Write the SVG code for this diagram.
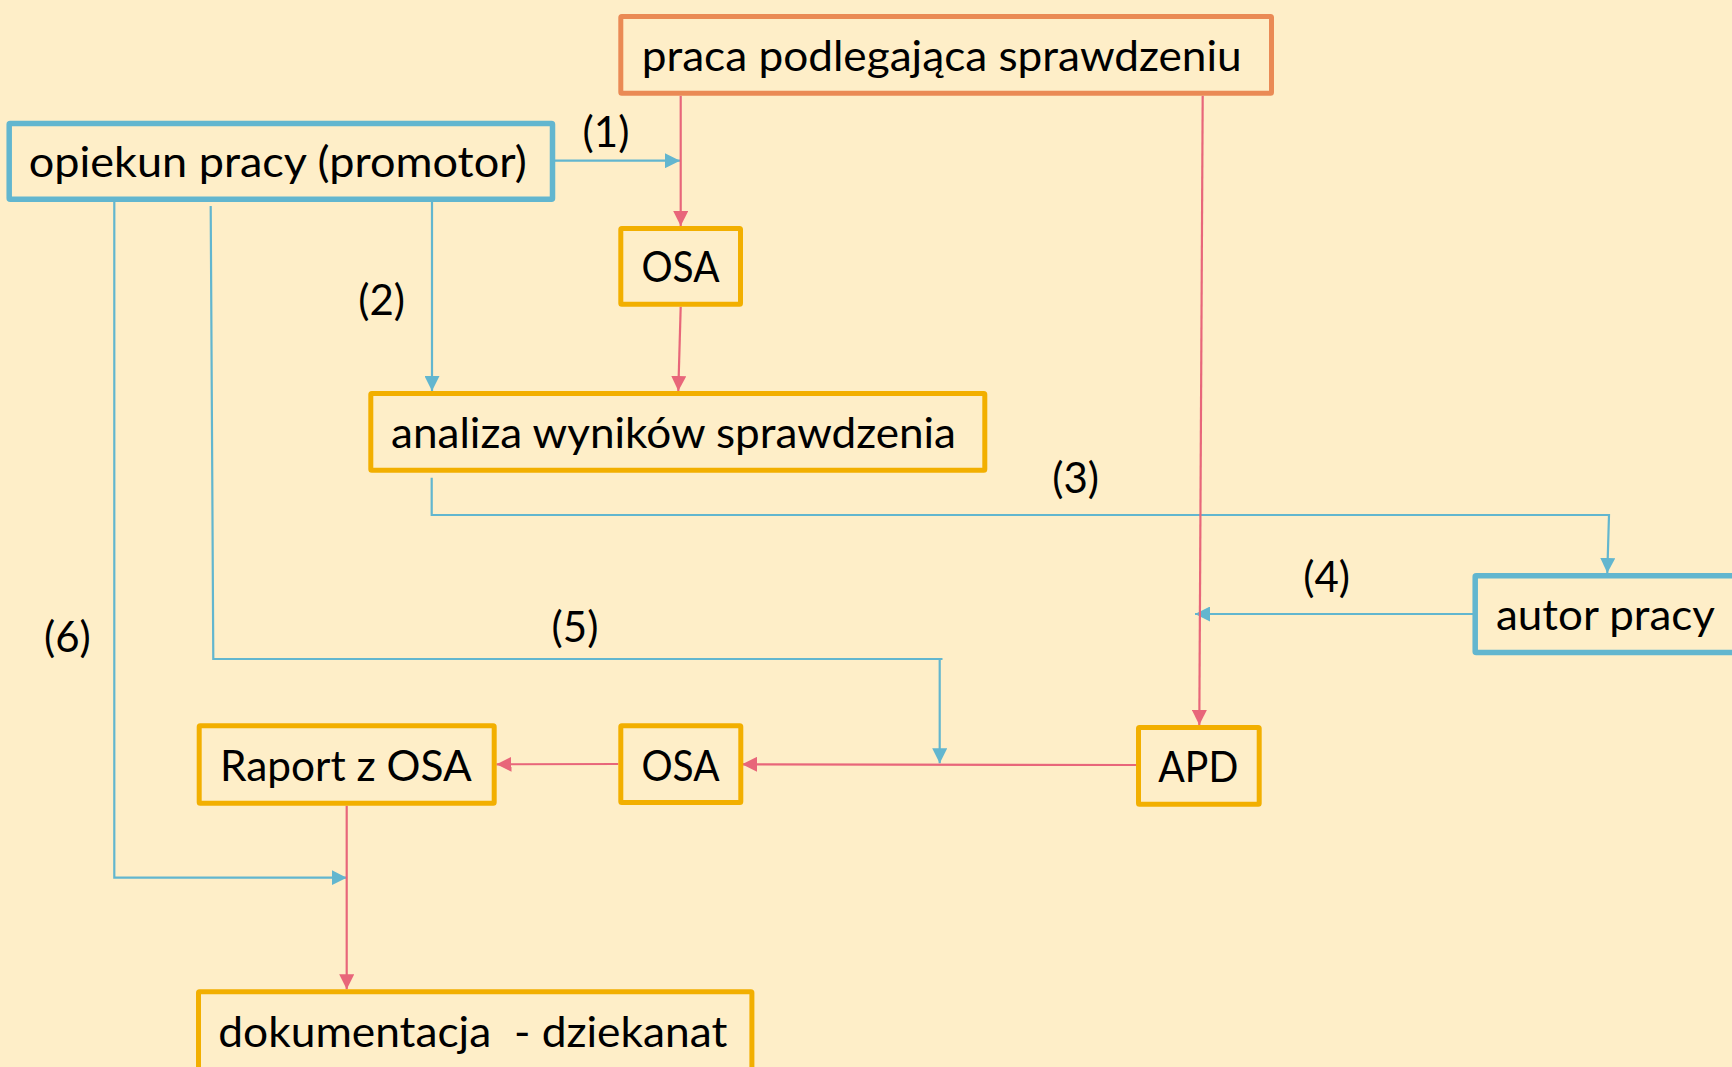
<svg xmlns="http://www.w3.org/2000/svg" width="1732" height="1067" viewBox="0 0 1732 1067">
<defs>
<style>
.box{fill:none;stroke-width:5;stroke-linejoin:round}
.orange{stroke:#EA8A55}
.blue{stroke:#62B6CF;stroke-width:5.5}
.gold{stroke:#F2AF00}
.t{font-family:Lato,"Open Sans","Liberation Sans",sans-serif;font-size:42px;fill:#000}
.lbl{font-family:Lato,"Open Sans","Liberation Sans",sans-serif;font-size:42px;fill:#000;text-anchor:middle}
.cb{fill:none;stroke:#62B6CF;stroke-width:2.2}
.cr{fill:none;stroke:#E8667A;stroke-width:2.2}
</style>
<marker id="ab" viewBox="0 0 15 15" markerWidth="15" markerHeight="15" refX="15" refY="7.5" markerUnits="userSpaceOnUse" orient="auto"><path d="M0,0 L15,7.5 L0,15 z" fill="#62B6CF"/></marker>
<marker id="ar" viewBox="0 0 15 15" markerWidth="15" markerHeight="15" refX="15" refY="7.5" markerUnits="userSpaceOnUse" orient="auto"><path d="M0,0 L15,7.5 L0,15 z" fill="#E8667A"/></marker>
</defs>
<rect width="1732" height="1067" fill="#FEEEC8"/>
<g id="connectors">
<path class="cb" d="M555,160.7 H680" marker-end="url(#ab)"/>
<path class="cb" d="M432,201.7 V391" marker-end="url(#ab)"/>
<path class="cb" d="M431.7,477.7 V515 H1609 L1607.3,573" marker-end="url(#ab)"/>
<path class="cb" d="M1473,614 H1195" marker-end="url(#ab)"/>
<path class="cb" d="M210.7,206 L213.3,659 H942.5"/>
<path class="cb" d="M939.7,659 V763.3" marker-end="url(#ab)"/>
<path class="cb" d="M114.3,201.7 V877.7 H346.7" marker-end="url(#ab)"/>
<path class="cr" d="M680.7,95.7 V226" marker-end="url(#ar)"/>
<path class="cr" d="M1202.7,95.7 L1199.3,725" marker-end="url(#ar)"/>
<path class="cr" d="M680.7,306.7 L678.3,391" marker-end="url(#ar)"/>
<path class="cr" d="M1136,765 L742,764.3" marker-end="url(#ar)"/>
<path class="cr" d="M618.3,764 L496.5,764.3" marker-end="url(#ar)"/>
<path class="cr" d="M346.7,805.7 V989.3" marker-end="url(#ar)"/>
</g>
<g id="labels">
<text class="lbl" x="606" y="147">(1)</text>
<text class="lbl" x="381.7" y="315">(2)</text>
<text class="lbl" x="1075.7" y="493">(3)</text>
<text class="lbl" x="1326.7" y="591.7">(4)</text>
<text class="lbl" x="575" y="641.7">(5)</text>
<text class="lbl" x="67.4" y="652">(6)</text>
</g>
<g id="praca">
<rect class="box orange" x="620.8" y="16.5" width="650.7" height="76.7" rx="1"/>
<text class="t" x="641.7" y="70.7" textLength="600" lengthAdjust="spacingAndGlyphs">praca podlegająca sprawdzeniu</text>
</g>
<g id="opiekun">
<rect class="box blue" x="9.2" y="123.5" width="543.3" height="75.7" rx="1"/>
<text class="t" x="28.7" y="177" textLength="498" lengthAdjust="spacingAndGlyphs">opiekun pracy (promotor)</text>
</g>
<g id="osa1">
<rect class="box gold" x="620.8" y="228.5" width="119.7" height="75.7" rx="1"/>
<text class="t" x="680.5" y="282" text-anchor="middle" textLength="78" lengthAdjust="spacingAndGlyphs">OSA</text>
</g>
<g id="analiza">
<rect class="box gold" x="370.8" y="393.5" width="614" height="76.7" rx="1"/>
<text class="t" x="391" y="448" textLength="565" lengthAdjust="spacingAndGlyphs">analiza wyników sprawdzenia</text>
</g>
<g id="autor">
<rect class="box blue" x="1475.2" y="575.8" width="300" height="76.7" rx="1"/>
<text class="t" x="1496" y="630" textLength="219" lengthAdjust="spacingAndGlyphs">autor pracy</text>
</g>
<g id="apd">
<rect class="box gold" x="1138.5" y="727.5" width="120.7" height="76.7" rx="1"/>
<text class="t" x="1198.3" y="781.7" text-anchor="middle" textLength="80" lengthAdjust="spacingAndGlyphs">APD</text>
</g>
<g id="osa2">
<rect class="box gold" x="620.8" y="725.8" width="120" height="76.7" rx="1"/>
<text class="t" x="680.5" y="780.5" text-anchor="middle" textLength="78" lengthAdjust="spacingAndGlyphs">OSA</text>
</g>
<g id="raport">
<rect class="box gold" x="199.2" y="725.8" width="295" height="77.4" rx="1"/>
<text class="t" x="220" y="780.7" textLength="251.7" lengthAdjust="spacingAndGlyphs">Raport z OSA</text>
</g>
<g id="dokumentacja">
<rect class="box gold" x="198.5" y="991.8" width="553.4" height="100" rx="1"/>
<text class="t" x="218.3" y="1046.7" xml:space="preserve" textLength="509" lengthAdjust="spacingAndGlyphs">dokumentacja  - dziekanat</text>
</g>
</svg>
